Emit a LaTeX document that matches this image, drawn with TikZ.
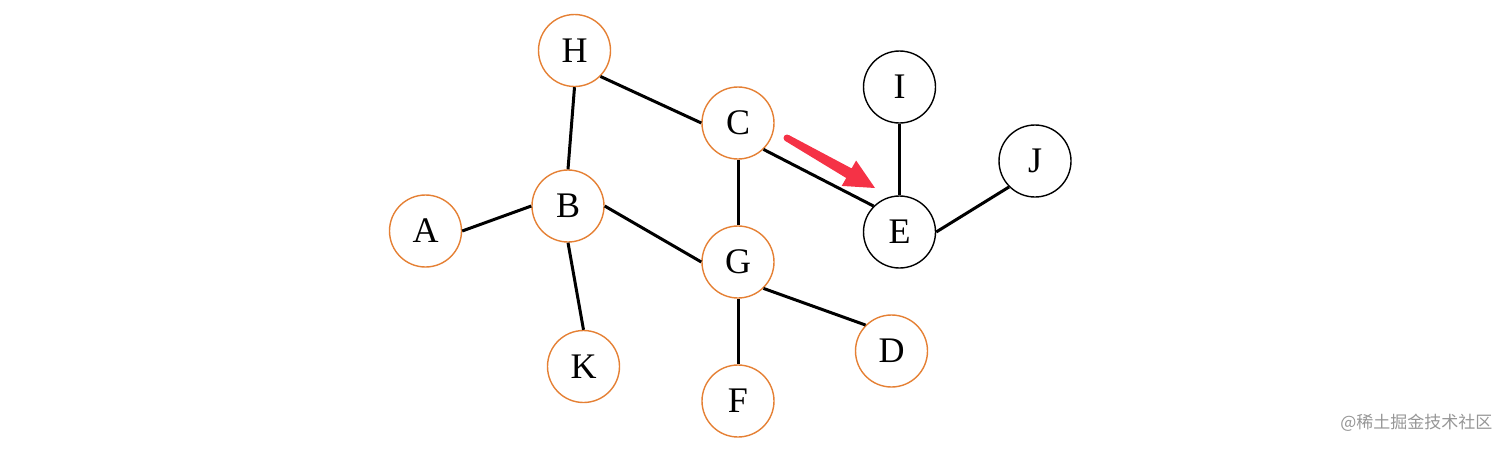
\documentclass[tikz,border=0pt]{standalone}
\usepackage{fontspec}
\setmainfont{Liberation Serif}
\newfontfamily\cjk{Noto Sans CJK SC}
\definecolor{nodeorange}{RGB}{229,128,52}
\definecolor{arrowred}{RGB}{245,50,70}
\definecolor{wmgray}{RGB}{150,150,150}
\tikzset{
  vtx/.style={circle, draw=#1, line width=1.4pt, minimum size=72pt, inner sep=0pt, fill=white, font=\fontsize{36}{38}\selectfont},
  vtx/.default=nodeorange,
  edge/.style={line width=3pt, black},
}
\begin{document}
\begin{tikzpicture}[x=1pt,y=-1pt]
\useasboundingbox (0,0) rectangle (1512,448);
\node[vtx] (H) at (574.5,50.5) {H};
\node[vtx] (C) at (738,123) {C};
\node[vtx=black] (I) at (899.5,87) {I};
\node[vtx=black] (J) at (1035,161) {J};
\node[vtx] (B) at (568,206) {B};
\node[vtx] (A) at (425.5,231) {A};
\node[vtx] (G) at (738,262) {G};
\node[vtx=black] (E) at (899.5,232) {E};
\node[vtx] (K) at (583.5,366.5) {K};
\node[vtx] (D) at (891.5,351) {D};
\node[vtx] (F) at (738,401) {F};
\draw[edge] (H.270) -- (B.90);
\draw[edge] (H.-45) -- (C.180);
\draw[edge] (C.270) -- (G.90);
\draw[edge] (C.-46) -- (E.135);
\draw[edge] (A.0) -- (B.180);
\draw[edge] (B.0) -- (G.180);
\draw[edge] (B.270) -- (K.90);
\draw[edge] (G.270) -- (F.90);
\draw[edge] (G.-46) -- (D.135);
\draw[edge] (I.270) -- (E.90);
\draw[edge] (E.0) -- (J.225);
\fill[arrowred] (785.3,141.0) -- (846.2,178.0) -- (841.7,185.9) -- (875,188) -- (856.1,160.5) -- (851.6,168.4) -- (788.7,135.0) -- cycle;
\fill[arrowred] (787,138) circle[radius=3.5pt];
\node[wmgray, font=\cjk\fontsize{17}{18}\selectfont, anchor=east] (wm) at (1496,423) {@稀土掘金技术社区};
\end{tikzpicture}
\end{document}
